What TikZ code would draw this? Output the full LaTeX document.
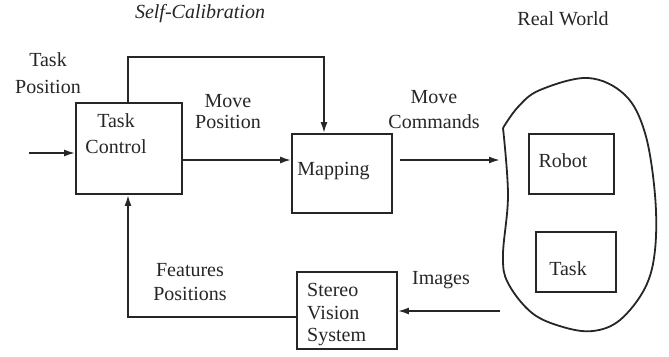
\documentclass[tikz,border=0pt]{standalone}
\usepackage{fontspec}
\setmainfont{Liberation Serif}
\usetikzlibrary{arrows.meta}
\definecolor{ink}{gray}{0.15}
\tikzset{
  wire/.style={draw=ink, line width=1.8pt},
  arr/.style={wire, -{Latex[length=11pt,width=7pt]}},
  blockbox/.style={draw=ink, line width=1.8pt, inner sep=0pt},
  lbl/.style={text=ink, inner sep=0pt, font=\fontsize{20}{25}\selectfont},
}
\begin{document}
\begin{tikzpicture}[x=1pt,y=-1pt]
\useasboundingbox (0,0) rectangle (669,356);

% blocks
\node[blockbox, minimum width=106pt, minimum height=91pt] (tc) at (129,148.5) {};
\node[blockbox, minimum width=100pt, minimum height=79pt] (map) at (342,173.5) {};
\node[blockbox, minimum width=100pt, minimum height=77pt] (sv) at (347,310.5) {};
\node[blockbox, minimum width=85pt, minimum height=60pt] (robot) at (571.5,164) {};
\node[blockbox, minimum width=80pt, minimum height=60pt] (task) at (576,262) {};

% real world outline
\draw[wire, line join=round] plot[smooth, tension=0.6] coordinates {
  (503,128) (518,107) (540,90) (588,78) (625,95) (645,133) (655,195)
  (655,250) (645,288) (620,320) (593,331) (563,327) (532,313) (508,283)
  (503,255) (508,195) (503,128)};

% block texts
\node[lbl, font=\fontsize{20}{26}\selectfont, align=center, anchor=north] (tctext) at (116,113.5) {Task\\Control};
\node[lbl, anchor=base] (maptext) at (333.5,175) {Mapping};
\node[lbl, font=\fontsize{20}{22.5}\selectfont, align=left, anchor=north west] (svtext) at (307,283.5) {Stereo\\Vision\\System};
\node[lbl, anchor=base] (robottext) at (563,167) {Robot};
\node[lbl, anchor=base] (tasktext) at (568,275) {Task};

% titles and signal labels
\node[lbl, font=\fontsize{20}{25}\selectfont\itshape, anchor=base] (selfcal) at (200,18) {Self-Calibration};
\node[lbl, anchor=base] (realworld) at (563,25) {Real World};
\node[lbl, font=\fontsize{20}{27}\selectfont, align=center, anchor=north] (taskpos) at (48,52) {Task\\Position};
\node[lbl, font=\fontsize{20}{21}\selectfont, align=center, anchor=north] (movepos) at (228,94) {Move\\Position};
\node[lbl, align=center, anchor=north] (movecmd) at (434,90) {Move\\Commands};
\node[lbl, font=\fontsize{20}{24}\selectfont, align=center, anchor=north] (featpos) at (190,263.5) {Features\\Positions};
\node[lbl, anchor=base] (images) at (441,284) {Images};

% routing coordinates
\coordinate (inpt) at (29,153);
\coordinate (fwd) at (0,160);
\coordinate (lx) at (128,0);
\coordinate (loop) at (324,57);
\coordinate (cmdstart) at (400,160);
\coordinate (cmdend) at (500,160);
\coordinate (imgstart) at (500,311);
\coordinate (fb) at (0,317);

% connectors
\draw[arr] (inpt) -- (inpt -| tc.west);
\draw[arr] (tc.east |- fwd) -- (map.west |- fwd);
\draw[arr] (tc.north -| lx) |- (loop) -- (loop |- map.north);
\draw[arr] (cmdstart) -- (cmdend);
\draw[arr] (imgstart) -- (imgstart -| sv.east);
\draw[arr] (sv.west |- fb) -| (tc.south -| lx);
\end{tikzpicture}
\end{document}
